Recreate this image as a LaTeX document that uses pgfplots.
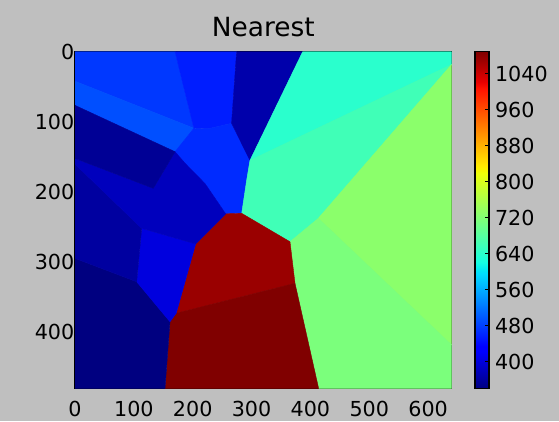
\documentclass[border=0pt]{standalone}
\usepackage{fontspec}
\setmainfont{DejaVu Sans}
\usepackage{pgfplots}
\pgfplotsset{compat=1.18}
\usepgfplotslibrary{patchplots}
\definecolor{bg}{RGB}{191,191,191}
\pgfplotsset{
  /pgf/number format/assume math mode=true,
  /pgf/number format/1000 sep={},
  colormap={mpljet}{rgb(0pt)=(0,0,0.5); rgb(110pt)=(0,0,1); rgb(125pt)=(0,0,1); rgb(340pt)=(0,0.86,1); rgb(350pt)=(0,0.9,0.968); rgb(375pt)=(0.081,1,0.887); rgb(640pt)=(0.935,1,0.032); rgb(650pt)=(0.968,0.963,0); rgb(660pt)=(1,0.926,0); rgb(890pt)=(1,0.074,0); rgb(910pt)=(0.909,0,0); rgb(1000pt)=(0.5,0,0)},
  cell/.style={patch, patch type=polygon, vertex count=#1, shader=faceted, faceted color=mapped color, line width=0.3pt, point meta=explicit},
}
\begin{document}
\begin{tikzpicture}
\path[use as bounding box, fill=bg] (-56.25pt,-24.4pt) rectangle (363pt,291.4pt);
\begin{axis}[
  at={(0,0)}, anchor=south west, scale only axis,
  width=282.5pt, height=252.6pt,
  xmin=0, xmax=640, ymin=0, ymax=480, y dir=reverse,
  xtick={0,100,...,600}, ytick={0,100,...,400},
  tick align=inside, major tick length=4pt,
  tick style={black, line width=0.6pt},
  axis line style={line width=0.9pt},
  ticklabel style={font=\fontsize{15.5}{18}\selectfont},
  xticklabel style={yshift=-6.2pt},
  yticklabel style={xshift=3pt},
  title={Nearest},
  title style={font=\fontsize{19.8}{23}\selectfont, at={(0.5,1)}, anchor=base, yshift=5.7pt},
  point meta min=340, point meta max=1089,
  colorbar,
  colorbar style={
    at={(parent axis.north east)}, anchor=north west, xshift=9pt, width=10.5pt,
    ytick={400,480,...,1040}, ytick pos=right, yticklabel pos=right,
    tick align=inside, major tick length=3pt,
    tick style={black, line width=0.6pt},
    axis line style={line width=0.9pt},
    yticklabel style={xshift=1pt, font=\fontsize{15.5}{18}\selectfont},
  },
]
% A
\addplot[cell=4] coordinates {(0,0) [475] (170,0) [475] (202,109) [475] (0,42) [475]};
% B
\addplot[cell=5] coordinates {(170,0) [455] (274.6,0) [455] (266,102) [455] (226.5,109.7) [455] (202,109) [455]};
% C
\addplot[cell=4] coordinates {(0,42) [492] (202,109) [492] (170,142.5) [492] (0,76.4) [492]};
% D
\addplot[cell=10] coordinates {(170,142.5) [465] (202,109) [465] (226.5,109.7) [465] (266,102) [465] (297.3,154.8) [465] (291.7,182.8) [465] (283.2,230.3) [465] (256,231) [465] (221,188) [465] (187,159) [465]};
% E
\addplot[cell=4] coordinates {(274.6,0) [368] (386.8,0) [368] (297.3,154.8) [368] (266,102) [368]};
% F
\addplot[cell=4] coordinates {(386.8,0) [640] (640,0) [640] (640,18) [640] (297.3,154.8) [640]};
% H
\addplot[cell=6] coordinates {(297.3,154.8) [660] (640,18) [660] (413.4,237.4) [660] (365.3,270.8) [660] (283.2,230.3) [660] (291.7,182.8) [660]};
% G
\addplot[cell=3] coordinates {(640,18) [729] (640,418) [729] (413.4,237.4) [729]};
% I
\addplot[cell=6] coordinates {(413.4,237.4) [714] (640,418) [714] (640,480) [714] (414,480) [714] (373.8,330) [714] (365.3,270.8) [714]};
% J
\addplot[cell=6] coordinates {(256,231) [1072] (283.2,230.3) [1072] (365.3,270.8) [1072] (373.8,330) [1072] (172,372.7) [1072] (205,274) [1072]};
% K
\addplot[cell=5] coordinates {(172,372.7) [1089] (373.8,330) [1089] (414,480) [1089] (152.9,480) [1089] (161.4,384.8) [1089]};
% L
\addplot[cell=5] coordinates {(0,294.5) [340] (104.8,327.8) [340] (161.4,384.8) [340] (152.9,480) [340] (0,480) [340]};
% M
\addplot[cell=5] coordinates {(113.3,251.7) [401] (205,274) [401] (172,372.7) [401] (161.4,384.8) [401] (104.8,327.8) [401]};
% N
\addplot[cell=4] coordinates {(0,160) [361] (113.3,251.7) [361] (104.8,327.8) [361] (0,294.5) [361]};
% O
\addplot[cell=9] coordinates {(0,152) [380] (133,194.7) [380] (170,142.5) [380] (187,159) [380] (221,188) [380] (256,231) [380] (205,274) [380] (113.3,251.7) [380] (0,160) [380]};
% P
\addplot[cell=4] coordinates {(0,76.4) [354] (170,142.5) [354] (133,194.7) [354] (0,152) [354]};
\end{axis}
\end{tikzpicture}
\end{document}
